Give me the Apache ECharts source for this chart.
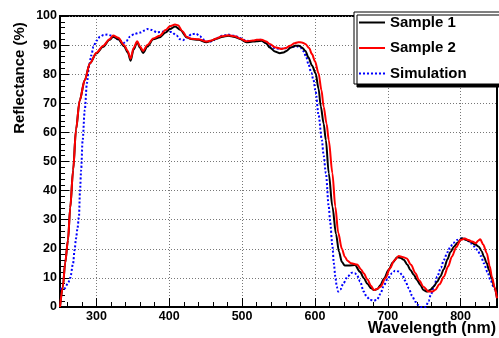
<!DOCTYPE html>
<html>
<head>
<meta charset="utf-8">
<script src="https://cdn.jsdelivr.net/npm/echarts@6/dist/echarts.min.js"></script>
<style>
html,body{margin:0;padding:0;background:#fff;}
#chart{width:499px;height:338px;}
</style>
</head>
<body>
<div id="chart"></div>
<script>
// Sample 1 (black)
var wl1 = [250,254,257,261,264,268,272,277,284,291,300,309,318,323,330,338,343,347,351,356,360,364,370,378,387,395,401,408,415,424,430,440,451,458,465,472,481,490,497,506,515,520,527,533,538,545,552,557,561,567,573,578,582,587,591,596,601,605,608,612,615,619,624,629,633,637,641,648,655,662,667,672,677,681,686,690,695,701,707,713,718,722,727,731,736,740,745,749,754,758,763,768,772,777,782,786,791,796,802,808,814,820,825,829,832,836,839,843,846,850];
var s1 = [0,7,15,23,34,47,61,71,78,83.7,87.2,89.4,91.8,92.9,92,89.6,87.5,84.6,88.5,91,89,87.3,89.5,92,92.7,94.3,95.5,96.4,95.3,92.7,92.1,91.8,91,91.5,92.2,92.8,93.2,92.8,92.1,91,91.2,91.3,91.5,90.6,89.2,87.8,87.2,87.5,88,89.2,89.8,89.8,89.2,88,85.8,83,80.3,75,69,63,57.4,46,34.5,25,19,15.5,14.3,14.3,14.4,12.1,10,8,6.5,5.8,6.2,7.6,9.8,12.7,15.3,17.1,16.8,16.2,14.5,12.7,11,9.3,7.5,5.8,5.3,5.8,7,8.7,10.4,13,16.4,18.8,20.8,22.2,23.6,23,22.4,21.5,20.7,19.2,17.3,15,12.7,9.8,7,3];
// Sample 2 (red)
var wl2 = [250,254,257,261,264,268,272,277,284,291,300,309,318,323,330,338,343,347,351,356,360,364,370,378,387,395,401,408,412,418,424,430,440,451,458,465,472,481,490,497,506,515,520,527,533,538,545,554,560,566,572,577,582,587,592,596,600,605,609,612,616,619,624,628,632,637,641,645,650,658,663,667,672,677,681,686,690,697,703,709,715,720,726,732,738,743,749,756,761,765,771,777,783,788,794,800,806,811,816,821,824,827,831,836,840,843,847,850];
var s2 = [0,7,15,23,34,47,61,71,78,83.7,87.4,89.7,92,93.3,92.5,90,88,85.3,89,91.3,89.5,88,90,92.3,93.2,95.2,96.5,97.1,96.8,94.8,92.8,92.2,92,91.2,91.6,92.3,93,93.4,93,92.3,91.3,91.6,91.8,91.8,91.2,90.4,89.3,88.7,89,89.8,90.6,91,90.9,90.4,89,86.9,84.5,80.3,74.5,68.8,63,57.4,46,34.5,25.5,20,17.3,15.8,15,14.6,13,11.6,9.5,7.3,5.8,6.3,7,10,13.3,16,17.5,17.2,16.7,14.5,11.6,9.2,7,5.3,5.3,5.8,7.8,10.4,14,17.3,20.5,23,23.5,23,22.5,21.9,22.8,23.3,21.5,18.5,14,10.4,6.5,3];
// Simulation (blue dotted)
var wlSim = [250,256,261,264,268,270,272,274,276,277.5,279,281,284,287,290,293,296,300,305,310,315,320,325,331,337,341,346,352,360,366,370,376,383,390,396,403,410,415,419,425,431,437,442,448,454,460,465,472,481,490,497,504,511,518,525,532,538,545,552,559,566,575,580,584,588,591,595,598,601,605,609.5,612,615,619,621,624,626,628,630,632,635,639,645,651,655,658,662,667,671,676,681,685,690,694,700,706,710,715,720,724,729,733,738,742,745,752,756,759,764,768,773,777,782,786,790,795,800,804,809,814,818,823,828,832,837,841,846,850];
var sim = [6.3,6.3,8.1,10,15,19.6,23.5,27,31,40,47,57,67.7,77,83,86.5,89.5,91.5,92.9,93.5,93.6,93.3,92.7,91.8,90.7,91.3,92.9,93.8,94.3,95,95.5,95.2,94.4,94.6,94.9,94.5,93.3,92,91.7,92.8,93.8,93.9,93,91.8,91,91.5,92.4,93.2,93.6,93.2,92.4,91.7,91.3,91.6,91.8,90.9,89.8,89,88.7,88.9,89.2,89.6,89.2,88,86,83.5,80.5,78,74,66,57.4,52,46,34.5,29,21,15,10.5,7,5.3,6,8.1,10.5,11.8,11.6,10.8,8.8,5.3,3.5,2.4,2.2,2.4,4.5,7,9.8,11.6,12.5,12.2,11,9,6.4,4,1.8,0.6,0,0,2,4.1,7.4,10.4,13.5,16.2,18.8,20.7,22,23,23.5,23.6,22.9,21.9,20.9,19.6,17.5,15,12,9.3,6.5,4.1];
// Tick labels
var xMajor = [300,400,500,600,700,800];
var xMinor = [260,280,320,340,360,380,420,440,460,480,520,540,560,580,620,640,660,680,720,740,760,780,820,840];
var seriesNames = ['Sample 1','Sample 2','Simulation'];

function pairs(xs, ys){ return xs.map(function(x,i){ return [x, ys[i]]; }); }

var FONT = '"Liberation Sans", Arial, Helvetica, sans-serif';
var chart = echarts.init(document.getElementById('chart'), null, {renderer:'canvas'});
chart.setOption({
  animation: false,
  backgroundColor: '#fff',
  grid: {left: 60, right: 2, top: 16, bottom: 31, show: true, borderColor: '#000', borderWidth: 2, backgroundColor: 'transparent', outerBoundsMode: 'none'},
  legend: {
    orient: 'vertical', left: 354, top: 12,
    data: seriesNames,
    itemWidth: 26, itemHeight: 14, itemGap: 10.5,
    padding: [3, 60, 3, 4],
    backgroundColor: '#fff', borderColor: '#000', borderWidth: 1,
    shadowColor: '#000', shadowBlur: 0.1, shadowOffsetX: 3, shadowOffsetY: 3,
    itemStyle: {opacity: 0},
    textStyle: {fontFamily: FONT, fontWeight: 'bold', fontSize: 15, color: '#000'}
  },
  xAxis: [{
    type: 'value', min: 250, max: 850,
    axisLine: {show: true, onZero: false, lineStyle: {color: '#000', width: 2}},
    axisTick: {show: true, inside: true, length: 9, customValues: xMajor, lineStyle: {color: '#000', width: 1}},
    axisLabel: {show: true, customValues: xMajor, margin: 3, fontFamily: FONT, fontWeight: 'bold', fontSize: 12.5, color: '#000'},
    splitLine: {show: true, lineStyle: {color: '#777', type: [1, 2], width: 1}}
  }, {
    type: 'value', min: 250, max: 850, position: 'bottom',
    axisLine: {show: false},
    axisTick: {show: true, inside: true, length: 5, customValues: xMinor, lineStyle: {color: '#000', width: 1}},
    axisLabel: {show: false},
    splitLine: {show: false}
  }],
  yAxis: {
    type: 'value', min: 0, max: 100, interval: 10,
    axisLine: {show: true, onZero: false, lineStyle: {color: '#000', width: 2}},
    axisTick: {show: true, inside: true, length: 9, lineStyle: {color: '#000', width: 1}},
    minorTick: {show: true, splitNumber: 5, length: 5, lineStyle: {color: '#000', width: 1}},
    axisLabel: {margin: 3, fontFamily: FONT, fontWeight: 'bold', fontSize: 12.5, color: '#000'},
    splitLine: {show: true, lineStyle: {color: '#777', type: [1, 2], width: 1}}
  },
  graphic: [
    {type: 'text', x: 20, y: 78, rotation: Math.PI/2,
     style: {text: 'Reflectance (%)', fill: '#000', font: 'bold 15px ' + FONT, align: 'center', verticalAlign: 'middle'}},
    {type: 'text', x: 496, y: 329,
     style: {text: 'Wavelength (nm)', fill: '#000', font: 'bold 16px ' + FONT, align: 'right', verticalAlign: 'middle'}}
  ],
  series: [
    {name: 'Sample 1', type: 'line', xAxisIndex: 0, data: pairs(wl1, s1), symbol: 'none', smooth: 0.3, smoothMonotone: 'x',
     lineStyle: {color: '#000', width: 2}, itemStyle: {color: '#000'}, z: 3},
    {name: 'Sample 2', type: 'line', xAxisIndex: 0, data: pairs(wl2, s2), symbol: 'none', smooth: 0.3, smoothMonotone: 'x',
     lineStyle: {color: '#f00', width: 2}, itemStyle: {color: '#f00'}, z: 4},
    {name: 'Simulation', type: 'line', xAxisIndex: 0, data: pairs(wlSim, sim), symbol: 'none', smooth: 0.3, smoothMonotone: 'x',
     lineStyle: {color: '#00f', width: 2, type: [2, 2]}, itemStyle: {color: '#00f'}, z: 2}
  ]
});
</script>
</body>
</html>
